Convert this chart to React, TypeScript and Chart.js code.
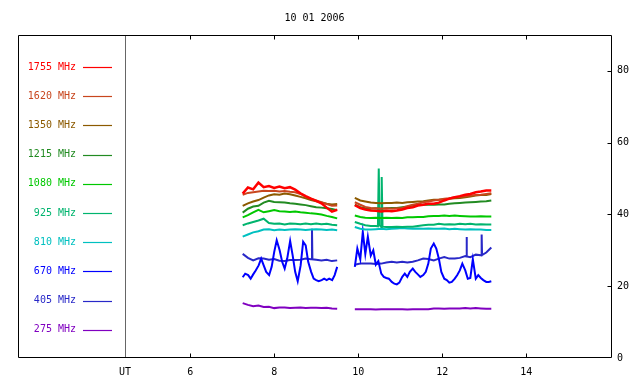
import { useEffect, useRef } from 'react';
import { Chart, registerables } from 'chart.js';

Chart.register(...registerables);

const TITLE = '10 01 2006';
const FREQ_LABELS = ['1755 MHz', '1620 MHz', '1350 MHz', '1215 MHz', '1080 MHz', '925 MHz', '810 MHz', '670 MHz', '405 MHz', '275 MHz'];
const COLORS = ['#ff0000', '#c8461e', '#8c5a00', '#228b22', '#00c800', '#00b46e', '#00c0c0', '#0000ff', '#2828c8', '#8000c0'];

const X_TICKS = [4.45, 6, 8, 10, 12, 14];
const X_TICK_LABELS = ['UT', '6', '8', '10', '12', '14'];
const Y_TICKS = [0, 20, 40, 60, 80];

// time (UT hours)
const TIME_A = [7.25, 7.375, 7.5, 7.625, 7.75, 7.875, 8.0, 8.125, 8.25, 8.375, 8.5, 8.625, 8.75, 8.875, 9.0, 9.125, 9.25, 9.375, 9.5];
const TIME_B = [9.92, 10.05, 10.17, 10.3, 10.42, 10.55, 10.67, 10.8, 10.92, 11.05, 11.17, 11.3, 11.42, 11.55, 11.67, 11.8, 11.92, 12.05, 12.17, 12.3, 12.42, 12.55, 12.67, 12.8, 12.92, 13.05, 13.17];
const TIME_FINE_A = [7.25, 7.31, 7.38, 7.44, 7.5, 7.56, 7.63, 7.69, 7.75, 7.81, 7.88, 7.94, 8.0, 8.06, 8.13, 8.19, 8.25, 8.31, 8.38, 8.44, 8.5, 8.56, 8.63, 8.69, 8.75, 8.81, 8.88, 8.94, 9.0, 9.06, 9.13, 9.19, 9.25, 9.31, 9.38, 9.44, 9.5];
const TIME_FINE_B = [9.92, 9.98, 10.05, 10.11, 10.17, 10.23, 10.3, 10.36, 10.42, 10.48, 10.55, 10.61, 10.67, 10.73, 10.8, 10.86, 10.92, 10.98, 11.05, 11.11, 11.17, 11.23, 11.3, 11.36, 11.42, 11.48, 11.55, 11.61, 11.67, 11.73, 11.8, 11.86, 11.92, 11.98, 12.05, 12.11, 12.17, 12.23, 12.3, 12.36, 12.42, 12.48, 12.55, 12.61, 12.67, 12.73, 12.8, 12.86, 12.92, 12.98, 13.05, 13.11, 13.17];

const F1755_A = [45.8, 47.5, 47.0, 48.9, 47.6, 47.9, 47.4, 47.8, 47.3, 47.6, 46.9, 45.9, 45.1, 44.4, 43.8, 43.1, 41.9, 40.8, 41.3];
const F1755_B = [42.6, 41.8, 41.4, 41.1, 41.0, 40.8, 41.0, 40.9, 41.1, 41.4, 41.8, 42.0, 42.5, 42.7, 43.0, 43.0, 43.3, 43.9, 44.4, 44.8, 45.1, 45.5, 45.7, 46.2, 46.4, 46.7, 46.7];
const F1620_A = [45.5, 46.0, 46.2, 46.4, 46.6, 46.5, 46.6, 46.4, 46.5, 46.3, 46.2, 45.7, 44.9, 44.4, 43.9, 43.4, 42.9, 42.4, 42.5];
const F1620_B = [43.4, 42.7, 42.1, 41.8, 41.7, 41.6, 41.7, 41.6, 41.7, 41.8, 42.3, 42.7, 43.0, 43.4, 43.6, 43.9, 44.1, 44.4, 44.5, 44.8, 44.9, 45.1, 45.3, 45.4, 45.5, 45.7, 45.9];
const F1350_A = [42.4, 43.1, 43.6, 44.0, 44.7, 45.3, 45.6, 45.5, 45.8, 45.6, 45.3, 44.9, 44.5, 44.0, 43.7, 43.3, 43.0, 42.8, 42.9];
const F1350_B = [44.6, 43.9, 43.6, 43.3, 43.2, 43.1, 43.2, 43.2, 43.3, 43.2, 43.4, 43.5, 43.6, 43.7, 43.9, 44.1, 44.1, 44.2, 44.4, 44.5, 44.6, 44.8, 45.0, 45.3, 45.4, 45.4, 45.7];
const F1215_A = [40.5, 41.6, 42.2, 42.4, 43.3, 43.8, 43.5, 43.4, 43.3, 43.1, 43.0, 42.8, 42.6, 42.3, 42.0, 41.9, 41.7, 41.5, 41.2];
const F1215_B = [42.7, 42.0, 41.7, 41.6, 41.7, 41.6, 41.7, 41.8, 41.8, 42.0, 42.2, 42.5, 42.6, 42.7, 42.7, 42.7, 42.8, 42.8, 43.0, 43.1, 43.2, 43.3, 43.4, 43.5, 43.6, 43.7, 43.9];
const F1080_A = [39.2, 39.8, 40.6, 41.3, 40.6, 40.9, 41.2, 40.9, 40.8, 40.7, 40.8, 40.6, 40.5, 40.3, 40.2, 40.0, 39.6, 39.3, 38.9];
const F1080_B = [39.7, 39.3, 39.1, 39.0, 39.1, 39.0, 39.1, 39.0, 39.1, 39.0, 39.2, 39.2, 39.3, 39.3, 39.5, 39.6, 39.6, 39.7, 39.6, 39.7, 39.6, 39.5, 39.4, 39.4, 39.5, 39.4, 39.4];
const F925_A = [37.0, 37.5, 37.9, 38.3, 38.8, 37.6, 37.4, 37.5, 37.2, 37.5, 37.4, 37.3, 37.5, 37.3, 37.5, 37.3, 37.4, 37.1, 37.0];
const F925_B = [37.9, 37.4, 37.0, 36.8, 36.8, 36.5, 36.5, 36.5, 36.6, 36.5, 36.6, 36.6, 36.8, 37.0, 37.1, 37.1, 37.4, 37.2, 37.3, 37.2, 37.4, 37.3, 37.4, 37.2, 37.3, 37.2, 37.2];
const F925_SPIKE_T = [10.47, 10.49, 10.51, 10.53, 10.56, 10.58];
const F925_SPIKE_V = [36.7, 52.8, 37.0, 36.8, 50.4, 36.6];
const F810_A = [33.8, 34.4, 35.0, 35.3, 35.8, 35.9, 35.6, 35.8, 35.7, 35.8, 35.9, 35.8, 35.7, 35.8, 35.9, 35.8, 35.7, 35.8, 35.6];
const F810_B = [36.5, 36.0, 35.8, 35.8, 35.9, 36.0, 35.9, 36.0, 36.1, 36.2, 36.1, 36.0, 36.1, 36.0, 36.1, 36.0, 36.0, 36.1, 35.9, 36.0, 35.9, 35.8, 35.9, 35.8, 35.8, 35.7, 35.7];
const F670_A = [22.5, 23.5, 23.1, 22.1, 23.3, 24.4, 25.8, 27.7, 25.8, 24.0, 23.1, 25.4, 29.5, 32.8, 30.0, 26.8, 24.9, 27.7, 32.6, 28.6, 24.0, 21.4, 25.8, 32.4, 31.4, 26.8, 24.0, 22.1, 21.7, 21.4, 21.7, 22.1, 21.7, 22.1, 21.7, 23.1, 25.4];
const F670_B = [25.4, 30.5, 27.5, 35.1, 29.0, 33.8, 28.5, 30.0, 26.0, 27.0, 23.5, 22.6, 22.3, 22.1, 21.2, 20.7, 20.5, 21.0, 22.6, 23.5, 22.6, 24.0, 24.9, 24.0, 23.3, 22.6, 23.1, 24.0, 26.3, 30.5, 31.9, 30.5, 27.7, 24.0, 22.1, 21.7, 21.0, 21.2, 22.1, 23.1, 24.4, 26.3, 24.4, 22.1, 22.3, 27.5, 22.1, 23.1, 22.3, 21.7, 21.2, 21.2, 21.4];
const F405_A = [29.0, 27.9, 27.2, 27.8, 27.7, 27.4, 27.6, 27.1, 27.0, 27.3, 27.3, 27.4, 27.7, 27.5, 27.4, 27.2, 27.4, 27.0, 27.2];
const F405_B = [26.0, 26.3, 26.3, 26.3, 26.2, 26.3, 26.6, 26.8, 26.6, 26.8, 26.6, 26.8, 27.2, 27.7, 27.6, 27.2, 27.7, 28.1, 27.7, 27.7, 27.9, 28.4, 28.1, 28.8, 28.6, 29.4, 30.8];
const F405_SPIKE_T = [8.89, 8.9, 8.91, 12.57, 12.58, 12.59, 12.93, 12.94, 12.95];
const F405_SPIKE_V = [27.5, 36.0, 27.5, 28.3, 33.7, 28.3, 28.6, 34.4, 28.7];
const F275_A = [15.3, 14.8, 14.4, 14.6, 14.2, 14.3, 13.9, 14.1, 14.1, 13.9, 14.0, 14.1, 13.9, 14.0, 14.0, 13.9, 14.0, 13.8, 13.7];
const F275_B = [13.6, 13.6, 13.6, 13.6, 13.5, 13.6, 13.6, 13.6, 13.6, 13.6, 13.5, 13.6, 13.6, 13.6, 13.6, 13.8, 13.8, 13.7, 13.8, 13.8, 13.8, 13.9, 13.8, 13.9, 13.8, 13.7, 13.7];

const GAP_TIME = 9.7;

type Pt = { x: number; y: number | null };

function build(tA: number[], vA: number[], tB: number[], vB: number[], sT: number[] = [], sV: number[] = []): Pt[] {
  const a: Pt[] = tA.map((t, i) => ({ x: t, y: vA[i] }));
  const b: Pt[] = tB.map((t, i) => ({ x: t, y: vB[i] }));
  sT.forEach((t, i) => {
    (t < GAP_TIME ? a : b).push({ x: t, y: sV[i] });
  });
  a.sort((p, q) => p.x - q.x);
  b.sort((p, q) => p.x - q.x);
  return [...a, { x: GAP_TIME, y: null }, ...b];
}

const SERIES: Pt[][] = [
  build(TIME_A, F1755_A, TIME_B, F1755_B),
  build(TIME_A, F1620_A, TIME_B, F1620_B),
  build(TIME_A, F1350_A, TIME_B, F1350_B),
  build(TIME_A, F1215_A, TIME_B, F1215_B),
  build(TIME_A, F1080_A, TIME_B, F1080_B),
  build(TIME_A, F925_A, TIME_B, F925_B, F925_SPIKE_T, F925_SPIKE_V),
  build(TIME_A, F810_A, TIME_B, F810_B),
  build(TIME_FINE_A, F670_A, TIME_FINE_B, F670_B),
  build(TIME_A, F405_A, TIME_B, F405_B, F405_SPIKE_T, F405_SPIKE_V),
  build(TIME_A, F275_A, TIME_B, F275_B),
];

const FONT = "'DejaVu Sans Mono', monospace";

const framePlugin = {
  id: 'frame',
  beforeDatasetsDraw(chart: any) {
    const { ctx, chartArea: ca, scales } = chart;
    const xs = scales.x;
    ctx.save();
    ctx.strokeStyle = '#666666';
    ctx.lineWidth = 1;
    const ux = Math.round(xs.getPixelForValue(X_TICKS[0])) + 0.5;
    ctx.beginPath();
    ctx.moveTo(ux, ca.top);
    ctx.lineTo(ux, ca.bottom);
    ctx.stroke();
    ctx.restore();
  },
  afterDraw(chart: any) {
    const { ctx, chartArea: ca, scales } = chart;
    const xs = scales.x;
    const ys = scales.y;
    ctx.save();
    ctx.strokeStyle = '#000';
    ctx.lineWidth = 1;
    const L = Math.round(ca.left) + 0.5;
    const T = Math.round(ca.top) + 0.5;
    const R = Math.round(ca.right) + 0.5;
    const B = Math.round(ca.bottom) - 0.5;
    ctx.beginPath();
    ctx.moveTo(L, T); ctx.lineTo(R, T); ctx.lineTo(R, B); ctx.lineTo(L, B); ctx.closePath();
    ctx.stroke();
    ctx.beginPath();
    X_TICKS.slice(1).forEach((v) => {
      const px = Math.round(xs.getPixelForValue(v)) + 0.5;
      ctx.moveTo(px, B); ctx.lineTo(px, B - 4);
      ctx.moveTo(px, T); ctx.lineTo(px, T + 4);
    });
    Y_TICKS.slice(1).forEach((v) => {
      const py = Math.round(ys.getPixelForValue(v)) + 0.5;
      ctx.moveTo(R, py); ctx.lineTo(R - 4, py);
    });
    ctx.stroke();

    ctx.font = `10px ${FONT}`;
    ctx.fillStyle = '#000';
    ctx.textAlign = 'center';
    ctx.textBaseline = 'middle';
    ctx.fillText(TITLE, (ca.left + ca.right) / 2, 18);

    ctx.textAlign = 'right';
    FREQ_LABELS.forEach((lab, i) => {
      const y = 67 + i * 29.2;
      ctx.fillStyle = COLORS[i];
      ctx.fillText(lab, 76, y);
      ctx.strokeStyle = COLORS[i];
      ctx.lineWidth = 1.2;
      const yy = Math.round(y) + 0.5;
      ctx.beginPath();
      ctx.moveTo(83, yy);
      ctx.lineTo(112, yy);
      ctx.stroke();
    });
    ctx.restore();
  },
};

export default function App() {
  const ref = useRef<HTMLCanvasElement>(null);
  useEffect(() => {
    document.body.style.margin = '0';
    const chart = new Chart(ref.current as HTMLCanvasElement, {
      type: 'line',
      data: {
        datasets: SERIES.map((d, i) => ({
          label: FREQ_LABELS[i],
          data: d as any,
          borderColor: COLORS[i],
          backgroundColor: COLORS[i],
          borderWidth: i === 0 ? 2.5 : 2,
          pointRadius: 0,
          fill: false,
          tension: 0,
          spanGaps: false,
        })),
      },
      options: {
        animation: false,
        responsive: false,
        events: [],
        layout: { padding: { left: 18, top: 35, right: 0, bottom: 0 } },
        plugins: { legend: { display: false }, tooltip: { enabled: false }, title: { display: false } },
        scales: {
          x: {
            type: 'linear',
            position: 'bottom',
            min: 1.9,
            max: 16.02,
            grid: { display: false, drawTicks: false },
            border: { display: false },
            afterBuildTicks: (s: any) => { s.ticks = X_TICKS.map((v) => ({ value: v })); },
            afterFit: (s: any) => { s.height = 26; },
            ticks: {
              padding: 8,
              color: '#000',
              font: { family: FONT, size: 10 },
              maxRotation: 0,
              autoSkip: false,
              callback: (v: any) => {
                const i = X_TICKS.indexOf(Number(v));
                return i >= 0 ? X_TICK_LABELS[i] : '';
              },
            },
          },
          y: {
            type: 'linear',
            position: 'right',
            min: 0,
            max: 90,
            grid: { display: false, drawTicks: false },
            border: { display: false },
            afterBuildTicks: (s: any) => { s.ticks = Y_TICKS.map((v) => ({ value: v })); },
            afterFit: (s: any) => { s.width = 29; },
            ticks: {
              padding: 6,
              color: '#000',
              font: { family: FONT, size: 10 },
              callback: (v: any) => String(v),
            },
          },
        },
      },
      plugins: [framePlugin],
    });
    return () => chart.destroy();
  }, []);
  return (
    <div style={{ width: 640, height: 384 }}>
      <canvas ref={ref} width={640} height={384} style={{ display: 'block' }} />
    </div>
  );
}
